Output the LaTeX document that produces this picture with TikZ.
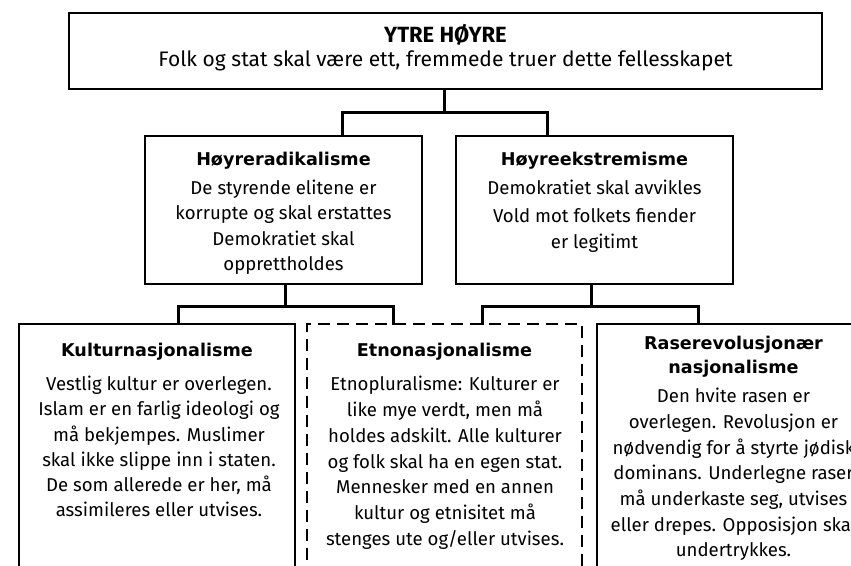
\documentclass[tikz,border=0pt]{standalone}
\usepackage{fontspec}
\setmainfont{Fira Sans}
\newfontfamily\headfont{DejaVu Sans}
\begin{document}
\begin{tikzpicture}[x=1pt,y=-1pt,
  box/.style={draw=black,line width=2pt,fill=white,inner sep=0pt},
  dbox/.style={box,dash pattern=on 12pt off 7pt},
  conn/.style={draw=black,line width=3pt,line cap=rect},
  body/.style={align=center,inner sep=0pt,font=\fontsize{18.6}{25.2}\selectfont},
  head/.style={align=center,inner sep=0pt,font=\headfont\bfseries\fontsize{17.6}{24}\selectfont}]
\useasboundingbox (0,0) rectangle (851,565);
\clip (0,0) rectangle (851,565);
% top box
\node[box,minimum width=753pt,minimum height=76pt] (top) at (445.5,51) {};
\node[inner sep=0pt,font=\bfseries\fontsize{22}{26}\selectfont] (toph) at (445.5,35) {YTRE HØYRE};
\node[inner sep=0pt,font=\fontsize{21}{26}\selectfont] (topt) at (445.5,61) {Folk og stat skal være ett, fremmede truer dette fellesskapet};
% middle boxes
\node[box,minimum width=277pt,minimum height=148pt] (hr) at (283.5,210) {};
\node[box,minimum width=277pt,minimum height=148pt] (he) at (594.5,210) {};
\node[head] (hrh) at (283.5,161) {Høyreradikalisme};
\node[body,anchor=north] (hrt) at (283.5,180) {De styrende elitene er\\korrupte og skal erstattes\\Demokratiet skal\\opprettholdes};
\node[head] (heh) at (594.5,161) {Høyreekstremisme};
\node[body,anchor=north] (het) at (594.5,180) {Demokratiet skal avvikles\\[3pt]Vold mot folkets fiender\\er legitimt};
% bottom boxes
\node[box,minimum width=276pt,minimum height=290pt] (kn) at (157,469) {};
\node[dbox,minimum width=275pt,minimum height=290pt] (en) at (444.5,469) {};
\node[box,minimum width=273pt,minimum height=290pt] (rn) at (733.5,469) {};
\node[head] (knh) at (157,352) {Kulturnasjonalisme};
\node[body,anchor=north] (knt) at (159,376) {Vestlig kultur er overlegen.\\Islam er en farlig ideologi og\\må bekjempes. Muslimer\\skal ikke slippe inn i staten.\\De som allerede er her, må\\assimileres eller utvises.};
\node[head] (enh) at (444.5,352) {Etnonasjonalisme};
\node[body,anchor=north,font=\fontsize{18.6}{25.8}\selectfont] (ent) at (445,376) {Etnopluralisme: Kulturer er\\like mye verdt, men må\\holdes adskilt. Alle kulturer\\og folk skal ha en egen stat.\\Mennesker med en annen\\kultur og etnisitet må\\stenges ute og/eller utvises.};
\node[head,anchor=north] (rnh) at (733.5,336) {Raserevolusjonær\\nasjonalisme};
\node[body,anchor=north,font=\fontsize{18.6}{25.7}\selectfont] (rnt) at (733.5,388) {Den hvite rasen er\\overlegen. Revolusjon er\\nødvendig for å styrte jødisk\\dominans. Underlegne raser\\må underkaste seg, utvises\\eller drepes. Opposisjon skal\\undertrykkes.};
% connectors
\coordinate (j1) at (444,112);
\coordinate (a1) at (342,112);
\coordinate (b1) at (547,112);
\draw[conn] (top.south -| j1) -- (j1);
\draw[conn] (hr.north -| a1) -- (a1) -- (b1) -- (he.north -| b1);
\coordinate (j2) at (285,306);
\coordinate (a2) at (178,306);
\coordinate (b2) at (393,306);
\draw[conn] (hr.south -| j2) -- (j2);
\draw[conn] (kn.north -| a2) -- (a2) -- (b2) -- (en.north -| b2);
\coordinate (j3) at (591,306);
\coordinate (a3) at (482,306);
\coordinate (b3) at (698,306);
\draw[conn] (he.south -| j3) -- (j3);
\draw[conn] (en.north -| a3) -- (a3) -- (b3) -- (rn.north -| b3);
\end{tikzpicture}
\end{document}
